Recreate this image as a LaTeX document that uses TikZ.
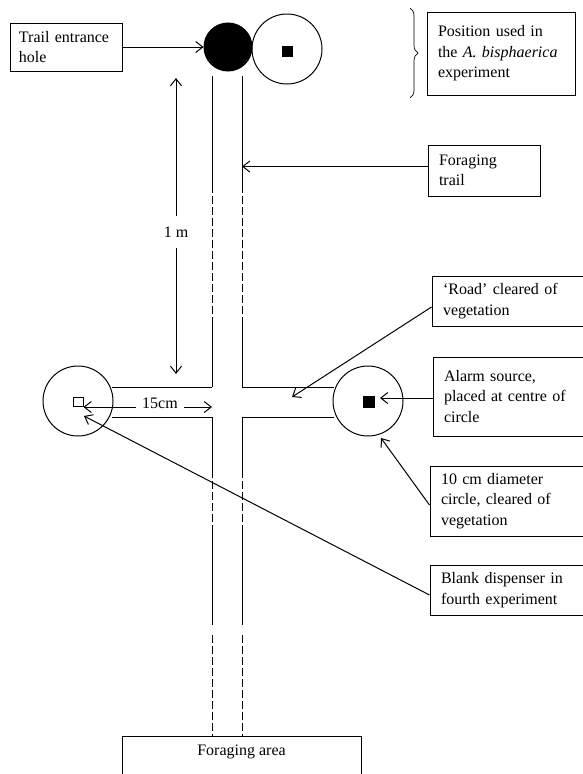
\documentclass[tikz,border=0pt]{standalone}
\usepackage{fontspec}
\setmainfont{Liberation Serif}
\usetikzlibrary{calc,positioning,decorations.pathreplacing,arrows.meta}
\tikzset{>={Straight Barb[length=7pt,width=11pt]}}
\tikzset{
  infobox/.style={draw, inner xsep=11pt, inner ysep=3pt, align=left},
  spot/.style={circle, draw, inner sep=0pt, minimum size=70pt},
  trail dash/.style={dash pattern=on 8pt off 3pt},
}
\begin{document}
\begin{tikzpicture}[x=1pt,y=-1pt,line width=1pt,font=\fontsize{16}{20.5}\selectfont]
\useasboundingbox (0,0) rectangle (583,774);
%%%% entrance hole and the other position
\node[spot] (posc) at (287,49) {};
\node[draw, fill=black, minimum size=10pt, inner sep=0pt] (possq) at (287,51) {};
\node[circle, draw, fill=black, minimum size=48pt, inner sep=0pt] (hole) at (228,47) {};
\node[infobox, inner xsep=9pt, text width=94pt, minimum height=48pt] (entr) at (66,47) {Trail entrance\\hole};
\draw[->] (entr.east) -- (hole.west);
\node[infobox, text width=126pt, minimum height=83pt] (posbox) at (501,53.5) {Position used in\\the \textit{A. bisphaerica}\\experiment};
\draw[line width=0.7pt, decorate, decoration={brace, amplitude=8pt}] (410,8) -- (410,98);
%%%% trail and road
\foreach \x in {212,242} {
  \draw (\x,76) -- (\x,185);
  \draw[trail dash] (\x,185) -- (\x,318);
  \draw (\x,318) -- (\x,387);
  \draw (\x,417) -- (\x,470);
  \draw[trail dash] (\x,470) -- (\x,532);
  \draw (\x,532) -- (\x,625);
  \draw[trail dash] (\x,635) -- (\x,736);
}
\draw (112,387) -- (212,387);
\draw (112,417) -- (212,417);
\draw (242,387) -- (334,387);
\draw (242,417) -- (334,417);
\node[infobox, text width=90pt, minimum height=51pt] (ftrail) at (484,170.5) {Foraging\\trail};
\draw[->] ([yshift=4pt]ftrail.west) -- ([yshift=4pt]ftrail.west -| 242,0);
%%%% 1 m
\node[inner ysep=10pt] (onem) at (176,232) {1 m};
\coordinate (onetop) at (176,78);
\coordinate (onebot) at (176,374);
\draw[->] (onem.north) -- (onetop);
\draw[->] (onem.south) -- (onebot);
%%%% circles at the crossing
\node[spot] (lcirc) at (78,401) {};
\node[draw, minimum width=10pt, minimum height=9pt, inner sep=0pt] (lsq) at (78,401.5) {};
\node[spot] (rcirc) at (368,401) {};
\node[draw, fill=black, minimum size=11pt, inner sep=0pt] (rsq) at (368.5,401.5) {};
\node[inner xsep=6pt] (fifteen) at (160,403) {15cm};
\draw[->] ([yshift=-4pt]fifteen.west) -- ([yshift=-4pt]fifteen.west -| lsq.east);
\draw[->] ([yshift=-4pt]fifteen.east) -- ([yshift=-4pt]fifteen.east -| 212,0);
%%%% labels on the right
\node[infobox, text width=136pt, minimum height=50pt] (road) at (511,301) {`Road' cleared of\\vegetation};
\coordinate (roadtip) at (292,397);
\draw[->] ([yshift=-6pt]road.west) -- (roadtip);
\node[infobox, text width=135pt, minimum height=79pt] (alarm) at (511.5,396.5) {Alarm source,\\placed at centre of\\circle};
\coordinate (alarmtip) at (380,398);
\draw[->] (alarm.west |- alarmtip) -- (alarmtip);
\node[infobox, text width=138pt, minimum height=70pt] (tencm) at (510,501) {10 cm diameter\\circle, cleared of\\vegetation};
\coordinate (circtip) at (381,438);
\draw[->] ([yshift=-4pt]tencm.west) -- (circtip);
\node[infobox, text width=138pt, minimum height=50pt] (blank) at (510,590) {Blank dispenser in\\fourth experiment};
\coordinate (blanktip) at (84,416);
\draw[->] ([yshift=-5pt]blank.west) -- (blanktip);
%%%% foraging area
\node (farea) at (241.5,752) {Foraging area};
\draw (122,790) |- (361,736) -- (361,790);
\end{tikzpicture}
\end{document}
